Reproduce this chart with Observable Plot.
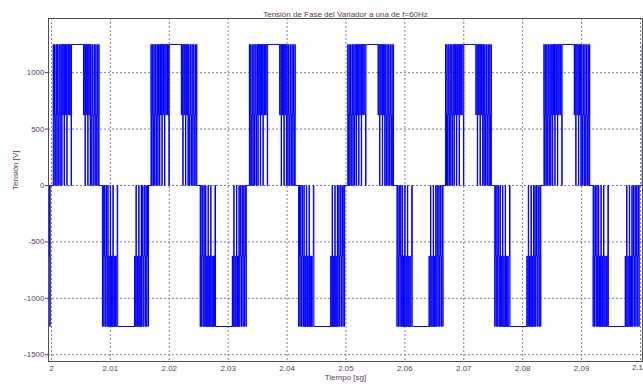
<!DOCTYPE html>
<html>
<head>
<meta charset="utf-8">
<script src="https://cdn.jsdelivr.net/npm/d3@7"></script>
<script src="https://cdn.jsdelivr.net/npm/@observablehq/plot@0.6"></script>
<style>
  html, body { margin: 0; padding: 0; background: #fff; }
  #chart svg { display: block; }
</style>
</head>
<body>
<div id="chart"></div>
<script>
// Axis ticks
const xTicks = [2, 2.01, 2.02, 2.03, 2.04, 2.05, 2.06, 2.07, 2.08, 2.09, 2.1];
const yTicks = [-1500, -1000, -500, 0, 500, 1000];

// Start time [s] of each fundamental period (rising edge of the positive half-wave)
const periodStart = [1.9836, 2.0003, 2.0169, 2.0336, 2.0503, 2.0669, 2.0836, 2.1003];

// Switching events within one period: [time from period start in ms, phase voltage after the switch in V]
const posBurst1 = [
  [0.00, 1250], [0.04, 625], [0.10, 0], [0.16, 625], [0.22, 1250], [0.27, 625], [0.34, 0],
  [0.42, 625], [0.47, 1250], [0.55, 625], [0.60, 0], [0.68, 625], [0.74, 1250], [0.82, 625],
  [0.88, 0], [0.94, 625], [1.00, 1250], [1.10, 625], [1.15, 0], [1.21, 625], [1.27, 1250],
  [1.38, 625], [1.44, 0], [1.50, 1250], [1.62, 625], [1.68, 1250], [1.80, 625], [1.85, 0],
  [1.91, 1250], [2.05, 625], [2.11, 1250], [2.25, 625], [2.30, 0], [2.36, 1250], [2.52, 625],
  [2.58, 1250], [2.74, 625], [2.80, 1250], [2.96, 625], [3.04, 0], [3.10, 1250]
];
const posBurst2 = [
  [5.15, 625], [5.20, 1250], [5.34, 625], [5.40, 0], [5.46, 1250], [5.60, 625], [5.66, 1250],
  [5.80, 625], [5.86, 0], [5.92, 1250], [6.04, 625], [6.10, 1250], [6.22, 625], [6.28, 0],
  [6.34, 1250], [6.44, 625], [6.52, 0], [6.58, 625], [6.64, 1250], [6.72, 625], [6.80, 0],
  [6.88, 625], [6.94, 1250], [7.01, 625], [7.08, 0], [7.16, 625], [7.22, 1250], [7.28, 625],
  [7.36, 0], [7.44, 625], [7.50, 1250], [7.55, 625], [7.62, 0], [7.70, 625], [7.75, 1250],
  [7.78, 0]
];
const negBurst1 = [
  [8.35, -1250], [8.39, -625], [8.45, 0], [8.52, -625], [8.58, -1250], [8.63, -625], [8.70, 0],
  [8.78, -625], [8.84, -1250], [8.92, -625], [8.98, 0], [9.05, -625], [9.11, -1250], [9.20, -625],
  [9.26, 0], [9.32, -1250], [9.44, -625], [9.50, -1250], [9.62, -625], [9.68, 0], [9.74, -1250],
  [9.88, -625], [9.94, -1250], [10.08, -625], [10.13, 0], [10.19, -1250], [10.34, -625],
  [10.40, -1250], [10.56, -625], [10.62, -1250], [10.78, -625], [10.86, 0], [10.95, -1250]
];
const negBurst2 = [
  [13.80, -625], [13.85, -1250], [13.99, -625], [14.05, 0], [14.11, -1250], [14.25, -625],
  [14.31, -1250], [14.45, -625], [14.51, 0], [14.57, -1250], [14.69, -625], [14.75, -1250],
  [14.87, -625], [14.93, 0], [14.99, -1250], [15.09, -625], [15.17, 0], [15.23, -625],
  [15.29, -1250], [15.37, -625], [15.45, 0], [15.53, -625], [15.59, -1250], [15.66, -625],
  [15.73, 0], [15.81, -625], [15.87, -1250], [15.93, -625], [16.01, 0], [16.09, -625],
  [16.14, -1250], [16.18, 0]
];

const titleText = "Tensión de Fase del Variador a una de f=60Hz";
const xLabel = "Tiempo [sg]";
const yLabel = "Tensión [V]";

// Phase-voltage samples: one row per switching event
const onePeriod = [...posBurst1, ...posBurst2, ...negBurst1, ...negBurst2];
const samples = [];
for (const t0 of periodStart) {
  for (const [ms, v] of onePeriod) samples.push({t: t0 + ms / 1000, v});
}

const textColor = "#5c3a5c";
const gridStyle = {stroke: "#808080", strokeDasharray: "2,2", strokeWidth: 1};
const lastTick = xTicks[xTicks.length - 1];

const chart = Plot.plot({
  width: 643,
  height: 390,
  marginLeft: 48,
  marginRight: 1,
  marginTop: 18,
  marginBottom: 29,
  style: {fontFamily: "'Liberation Sans', Arial, sans-serif", fontSize: "8px", color: textColor, background: "#fff"},
  x: {domain: [1.9995, 2.10034], ticks: xTicks, tickFormat: d => (d === lastTick ? "" : String(d)), tickSize: 0, tickPadding: 4, label: null},
  y: {domain: [-1560, 1480], ticks: yTicks, tickFormat: d => String(d), tickSize: 3, tickPadding: 1, label: null},
  marks: [
    Plot.ruleX(xTicks, {...gridStyle}),
    Plot.ruleY(yTicks, {...gridStyle}),
    Plot.line(samples, {x: "t", y: "v", curve: "step-after", stroke: "#0000ff", strokeWidth: 1, clip: true}),
    Plot.frame({stroke: "#505050", strokeWidth: 1}),
    // last x tick label, pulled in so it stays inside the page
    Plot.text([lastTick], {x: d => d, frameAnchor: "bottom", dy: 8, dx: -3, text: d => String(d), fill: textColor, fontSize: 8}),
    Plot.text([titleText], {frameAnchor: "top", dy: -7, fill: textColor, fontSize: 8}),
    Plot.text([xLabel], {frameAnchor: "bottom", dy: 18, fill: textColor, fontSize: 8}),
    Plot.text([yLabel], {frameAnchor: "left", dx: -33, rotate: -90, fill: textColor, fontSize: 8})
  ]
});
document.getElementById("chart").appendChild(chart);
</script>
</body>
</html>
